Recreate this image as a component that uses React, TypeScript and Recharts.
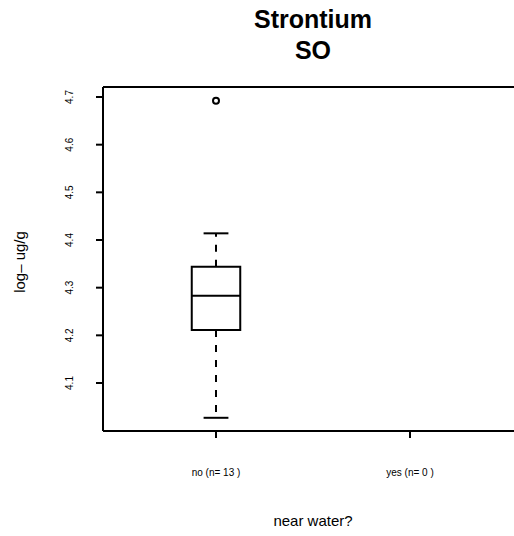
import React from 'react';
import {
  ComposedChart,
  XAxis,
  YAxis,
  Scatter,
  ReferenceArea,
  ReferenceLine,
} from 'recharts';

// groups on the x axis
const groupLabels = ['no (n= 13 )', 'yes (n= 0 )'];
const groupPositions = [1, 2];

// five-number summary for "no" (log ug/g)
const boxStats = { min: 4.027, q1: 4.211, median: 4.283, q3: 4.344, max: 4.414 };
const outliers = [{ x: 1, y: 4.692 }];

const yTicks = [4.1, 4.2, 4.3, 4.4, 4.5, 4.6, 4.7];
const yDomain = [3.9993, 4.721];
const xDomain = [0.4175, 2.5825];

const boxHalf = 0.125;
const capHalf = 0.064;

const ink = '#000000';
const font = '"Liberation Sans", Arial, Helvetica, sans-serif';

function YTick({ x, y, payload }: any) {
  return (
    <text
      x={x}
      y={y}
      transform={`rotate(-90 ${x} ${y})`}
      textAnchor="middle"
      fontSize={10}
      fontFamily={font}
      fill={ink}
    >
      {payload.value}
    </text>
  );
}

function XTick({ x, y, payload }: any) {
  const idx = groupPositions.indexOf(payload.value);
  return (
    <text x={x} y={y} textAnchor="middle" fontSize={10} fontFamily={font} fill={ink}>
      {idx >= 0 ? groupLabels[idx] : ''}
    </text>
  );
}

function OpenCircle({ cx, cy }: any) {
  return <circle cx={cx} cy={cy} r={3} fill="none" stroke={ink} strokeWidth={2} />;
}

export default function App() {
  const x = groupPositions[0];
  const lineProps = { stroke: ink, strokeWidth: 2, ifOverflow: 'visible' as const };

  return (
    <div
      style={{
        position: 'absolute',
        left: 0,
        top: 0,
        width: 514,
        height: 536,
        overflow: 'hidden',
        background: '#fff',
      }}
    >
      <div style={{ position: 'relative', width: 530, height: 536 }}>
        <ComposedChart
          width={530}
          height={536}
          margin={{ top: 87, right: 7, bottom: 45, left: 0 }}
        >
          <XAxis
            type="number"
            dataKey="x"
            domain={xDomain}
            ticks={groupPositions}
            allowDataOverflow
            height={60}
            tickSize={7}
            tickMargin={38}
            axisLine={{ stroke: ink, strokeWidth: 2 }}
            tickLine={{ stroke: ink, strokeWidth: 2 }}
            tick={<XTick />}
          />
          <YAxis
            type="number"
            dataKey="y"
            domain={yDomain}
            ticks={yTicks}
            allowDataOverflow
            width={103}
            tickSize={7}
            tickMargin={23}
            axisLine={{ stroke: ink, strokeWidth: 2 }}
            tickLine={{ stroke: ink, strokeWidth: 2 }}
            tick={<YTick />}
          />

          {/* top edge of the plot box */}
          <ReferenceLine y={yDomain[1]} {...lineProps} />

          {/* whiskers */}
          <ReferenceLine
            segment={[{ x, y: boxStats.q3 }, { x, y: boxStats.max }]}
            {...lineProps}
            strokeDasharray="7 8"
          />
          <ReferenceLine
            segment={[{ x, y: boxStats.q1 }, { x, y: boxStats.min }]}
            {...lineProps}
            strokeDasharray="7 8"
          />
          <ReferenceLine
            segment={[{ x: x - capHalf, y: boxStats.max }, { x: x + capHalf, y: boxStats.max }]}
            {...lineProps}
          />
          <ReferenceLine
            segment={[{ x: x - capHalf, y: boxStats.min }, { x: x + capHalf, y: boxStats.min }]}
            {...lineProps}
          />

          {/* box */}
          <ReferenceArea
            x1={x - boxHalf}
            x2={x + boxHalf}
            y1={boxStats.q1}
            y2={boxStats.q3}
            fill="#ffffff"
            fillOpacity={1}
            stroke={ink}
            strokeWidth={2}
          />
          <ReferenceLine
            segment={[{ x: x - boxHalf, y: boxStats.median }, { x: x + boxHalf, y: boxStats.median }]}
            {...lineProps}
          />

          <Scatter data={outliers} dataKey="y" shape={<OpenCircle />} isAnimationActive={false} />
        </ComposedChart>

        <svg
          width={530}
          height={536}
          style={{ position: 'absolute', left: 0, top: 0, pointerEvents: 'none' }}
        >
          <text x={313} y={28} textAnchor="middle" fontSize={25} fontWeight="bold" fontFamily={font} fill={ink}>
            Strontium
          </text>
          <text x={313} y={59} textAnchor="middle" fontSize={25} fontWeight="bold" fontFamily={font} fill={ink}>
            SO
          </text>
          <text x={313} y={526} textAnchor="middle" fontSize={15} fontFamily={font} fill={ink}>
            near water?
          </text>
          <text
            x={25}
            y={262}
            transform="rotate(-90 25 262)"
            textAnchor="middle"
            fontSize={15}
            fontFamily={font}
            fill={ink}
          >
            log– ug/g
          </text>
        </svg>
      </div>
    </div>
  );
}
